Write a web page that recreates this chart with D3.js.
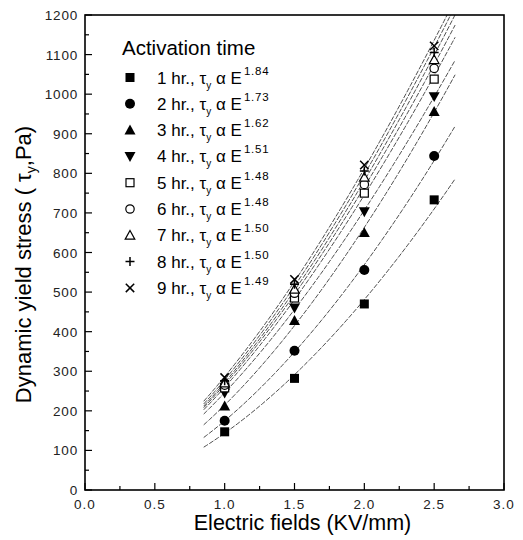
<!DOCTYPE html>
<html>
<head>
<meta charset="utf-8">
<script src="https://cdn.jsdelivr.net/npm/d3@7"></script>
<style>
  body { margin: 0; background: #fff; }
  svg { font-family: "Liberation Sans", Arial, sans-serif; }
</style>
</head>
<body>
<div id="chart"></div>
<script>
// Electric field values (KV/mm) at which yield stress was measured
const fields = [1.0, 1.5, 2.0, 2.5];

// Activation time series
const hours = [1, 2, 3, 4, 5, 6, 7, 8, 9];
const exponents = ['1.84', '1.73', '1.62', '1.51', '1.48', '1.48', '1.50', '1.50', '1.49'];
const symbols = ['sq', 'ci', 'tu', 'td', 'sqo', 'cio', 'tuo', 'plus', 'cross'];

// Dynamic yield stress (Pa) per series, one value per field
const stress1 = [147, 282, 470, 733];
const stress2 = [175, 352, 556, 844];
const stress3 = [212, 428, 650, 956];
const stress4 = [245, 460, 703, 994];
const stress5 = [258, 485, 750, 1038];
const stress6 = [265, 497, 772, 1065];
const stress7 = [270, 507, 790, 1087];
const stress8 = [276, 520, 806, 1105];
const stress9 = [284, 532, 821, 1122];
const stressAll = [stress1, stress2, stress3, stress4, stress5, stress6, stress7, stress8, stress9];

// Tick labels
const xTicks = [0.0, 0.5, 1.0, 1.5, 2.0, 2.5, 3.0];
const yTicks = [0, 100, 200, 300, 400, 500, 600, 700, 800, 900, 1000, 1100, 1200];

const W = 523, H = 540;
const margin = { left: 85, top: 15, right: 19, bottom: 50 };

const svg = d3.select('#chart').append('svg')
  .attr('width', W).attr('height', H);

const x = d3.scaleLinear().domain([0, 3]).range([margin.left, W - margin.right]);
const y = d3.scaleLinear().domain([0, 1200]).range([H - margin.bottom, margin.top]);

svg.append('defs').append('clipPath').attr('id', 'plot-clip')
  .append('rect')
  .attr('x', x(0)).attr('y', y(1200))
  .attr('width', x(3) - x(0)).attr('height', y(0) - y(1200));

// fit curves: power law, fitted to the points in log space
function powerFit(xs, ys) {
  const lx = xs.map(Math.log), ly = ys.map(Math.log);
  const mx = d3.mean(lx), my = d3.mean(ly);
  const n = d3.sum(lx, (v, i) => (v - mx) * (ly[i] - my)) / d3.sum(lx, v => (v - mx) * (v - mx));
  const a = Math.exp(my - n * mx);
  return e => a * Math.pow(e, n);
}

const fitGrid = d3.range(0.85, 2.651, 0.02);
const curves = svg.append('g').attr('clip-path', 'url(#plot-clip)');
stressAll.forEach(vals => {
  const f = powerFit(fields, vals);
  curves.append('path')
    .datum(fitGrid)
    .attr('fill', 'none')
    .attr('stroke', '#222')
    .attr('stroke-width', 0.8)
    .attr('stroke-dasharray', '5,1.5')
    .attr('d', d3.line().x(d => x(d)).y(d => y(f(d))));
});

// marker drawing
function drawSymbol(g, type, cx, cy) {
  const k = 4.5;
  if (type === 'sq' || type === 'sqo') {
    const s = type === 'sq' ? 4.5 : 4;
    g.append('rect').attr('x', cx - s).attr('y', cy - s).attr('width', 2 * s).attr('height', 2 * s)
      .attr('fill', type === 'sq' ? '#000' : '#fff').attr('stroke', '#000').attr('stroke-width', type === 'sq' ? 0 : 1.2);
  } else if (type === 'ci' || type === 'cio') {
    g.append('circle').attr('cx', cx).attr('cy', cy).attr('r', type === 'ci' ? 5 : 4.2)
      .attr('fill', type === 'ci' ? '#000' : '#fff').attr('stroke', '#000').attr('stroke-width', type === 'ci' ? 0 : 1.2);
  } else if (type === 'tu' || type === 'tuo') {
    const s = type === 'tu' ? 5.5 : 4.8;
    g.append('path').attr('d', `M${cx},${cy - s}L${cx + s},${cy + s * 0.8}L${cx - s},${cy + s * 0.8}Z`)
      .attr('fill', type === 'tu' ? '#000' : '#fff').attr('stroke', '#000').attr('stroke-width', type === 'tu' ? 0 : 1.2);
  } else if (type === 'td') {
    const s = 5.5;
    g.append('path').attr('d', `M${cx},${cy + s}L${cx + s},${cy - s * 0.8}L${cx - s},${cy - s * 0.8}Z`)
      .attr('fill', '#000');
  } else if (type === 'plus') {
    g.append('path').attr('d', `M${cx - k},${cy}H${cx + k}M${cx},${cy - k}V${cy + k}`)
      .attr('stroke', '#000').attr('stroke-width', 1.5);
  } else if (type === 'cross') {
    const c = 4.2;
    g.append('path').attr('d', `M${cx - c},${cy - c}L${cx + c},${cy + c}M${cx - c},${cy + c}L${cx + c},${cy - c}`)
      .attr('stroke', '#000').attr('stroke-width', 1.5);
  }
}

const pts = svg.append('g');
stressAll.forEach((vals, i) => {
  vals.forEach((v, j) => drawSymbol(pts, symbols[i], x(fields[j]), y(v)));
});

// axes: ticks point inward
const axisColor = '#000';
const xMinor = d3.range(0, 3.001, 0.25);
const yMinor = d3.range(0, 1201, 50);
const ax = svg.append('g');
ax.selectAll('.xt').data(xMinor).join('line')
  .attr('x1', d => x(d)).attr('x2', d => x(d))
  .attr('y1', y(0)).attr('y2', d => y(0) - (Math.abs(d * 2 - Math.round(d * 2)) < 1e-6 ? 7 : 4))
  .attr('stroke', axisColor).attr('stroke-width', 1.2);
ax.selectAll('.yt').data(yMinor).join('line')
  .attr('y1', d => y(d)).attr('y2', d => y(d))
  .attr('x1', x(0)).attr('x2', d => x(0) + (d % 100 === 0 ? 7 : 4))
  .attr('stroke', axisColor).attr('stroke-width', 1.2);

svg.append('rect')
  .attr('x', x(0)).attr('y', y(1200))
  .attr('width', x(3) - x(0)).attr('height', y(0) - y(1200))
  .attr('fill', 'none').attr('stroke', axisColor).attr('stroke-width', 1.6);

svg.append('g').selectAll('text').data(xTicks).join('text')
  .attr('x', d => x(d)).attr('y', y(0) + 19)
  .attr('text-anchor', 'middle').attr('font-size', 13.5).attr('fill', '#222')
  .attr('letter-spacing', 1)
  .text(d => d.toFixed(1));

svg.append('g').selectAll('text').data(yTicks).join('text')
  .attr('x', x(0) - 7).attr('y', d => y(d) + 5)
  .attr('text-anchor', 'end').attr('font-size', 13.5).attr('fill', '#222')
  .attr('letter-spacing', 0.8)
  .text(d => d);

// axis titles
svg.append('text')
  .attr('x', (x(0) + x(3)) / 2 + 8).attr('y', 530)
  .attr('text-anchor', 'middle').attr('font-size', 21.5)
  .text('Electric fields (KV/mm)');

const yt = svg.append('text')
  .attr('transform', `translate(31,${(y(0) + y(1200)) / 2 + 12}) rotate(-90)`)
  .attr('text-anchor', 'middle').attr('font-size', 22);
yt.append('tspan').text('Dynamic yield stress ( \u03c4');
yt.append('tspan').attr('font-size', 14).attr('dy', 5).text('y');
yt.append('tspan').attr('dy', -5).text(',Pa)');

// legend
const leg = svg.append('g');
leg.append('text').attr('x', 122).attr('y', 55).attr('font-size', 20.5).text('Activation time');
const rowY = 77.5, rowStep = 26.3;
hours.forEach((h, i) => {
  const cy = rowY + i * rowStep;
  drawSymbol(leg, symbols[i], 130, cy);
  const t = leg.append('text').attr('x', 157).attr('y', cy + 6).attr('font-size', 17);
  t.append('tspan').text(`${h} hr., \u03c4`);
  t.append('tspan').attr('font-size', 10).attr('dy', 5).text('y');
  t.append('tspan').attr('dy', -5).text(' \u03b1 E');
  t.append('tspan').attr('font-size', 11.5).attr('letter-spacing', 0.8).attr('dy', -9).attr('dx', 2).text(exponents[i]);
});
</script>
</body>
</html>
